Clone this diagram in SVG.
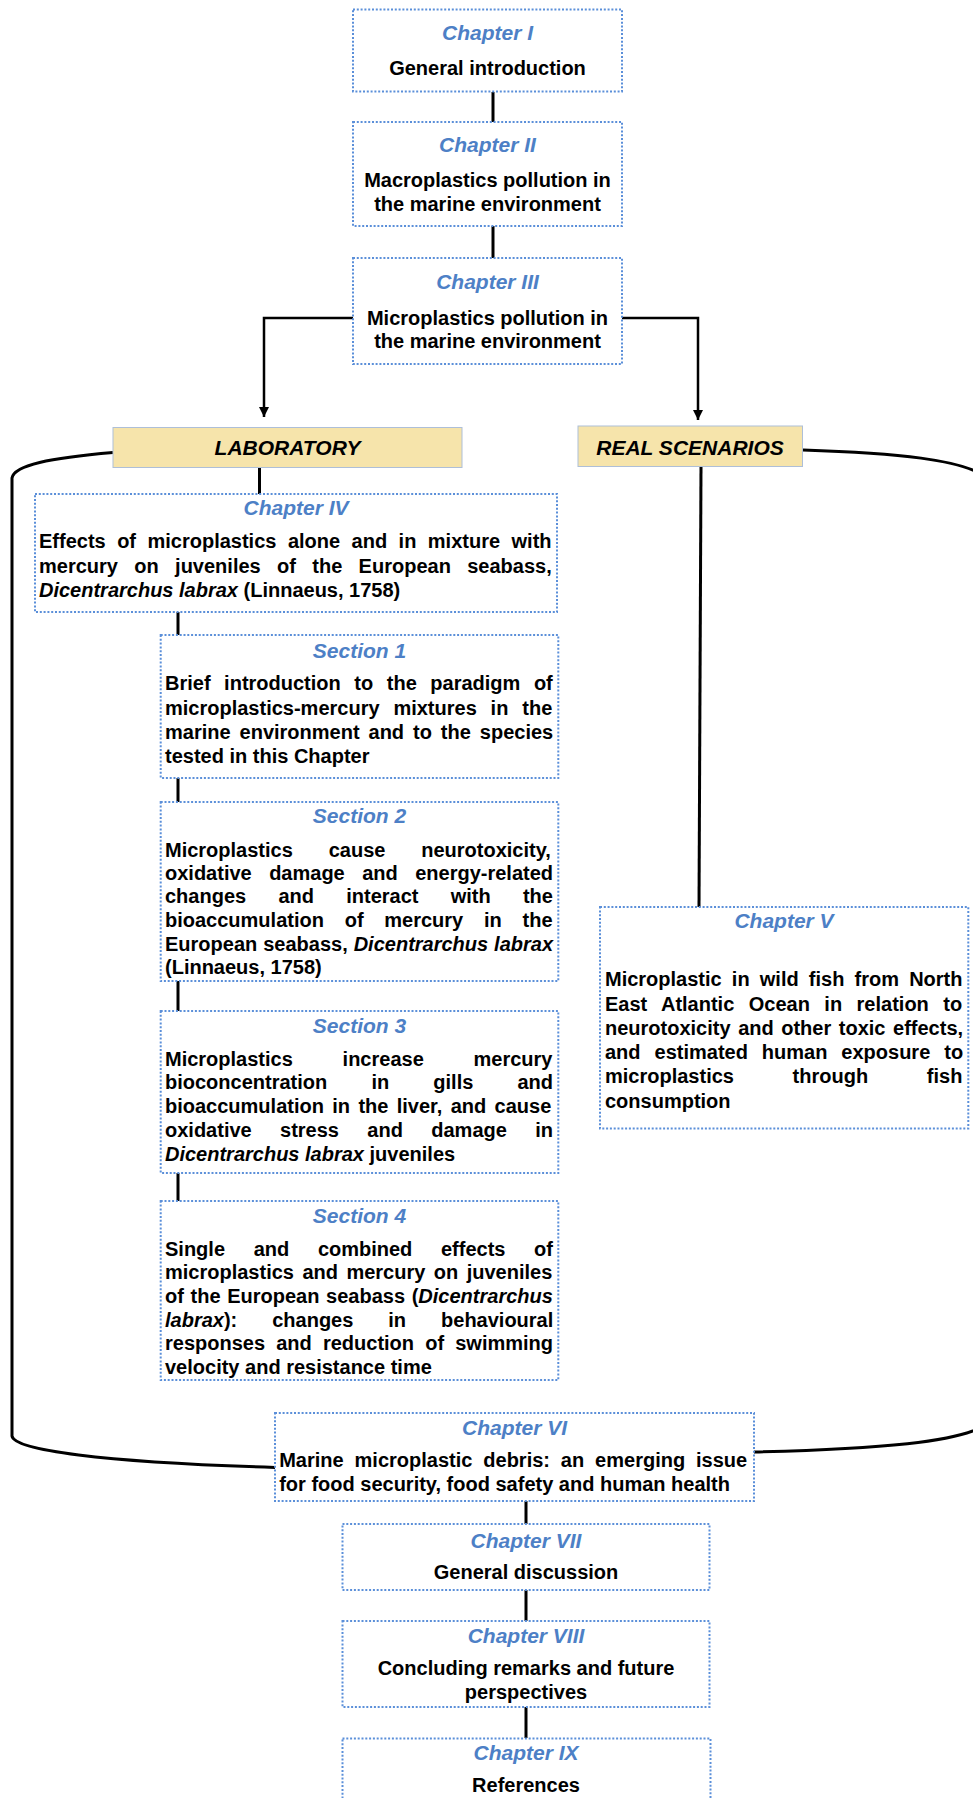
<svg xmlns="http://www.w3.org/2000/svg" width="973" height="1798" viewBox="0 0 973 1798">
<style>
.box{fill:#fff;stroke:#5b8fd9;stroke-width:2;stroke-dasharray:2 1.8}
.lab{fill:#f6e4ab;stroke:#aebfd8;stroke-width:1}
.t{font-family:"Liberation Sans",Arial,sans-serif;font-weight:bold;font-size:20px;fill:#000}
.h{font-family:"Liberation Sans",Arial,sans-serif;font-weight:bold;font-style:italic;font-size:21px;fill:#4d80c6;text-anchor:middle}
.k{font-family:"Liberation Sans",Arial,sans-serif;font-weight:bold;font-style:italic;font-size:21px;fill:#000;text-anchor:middle}
.c{text-anchor:middle}
.i{font-style:italic}
.ln{fill:none;stroke:#000;stroke-width:3}
.ar{fill:none;stroke:#000;stroke-width:2.5}
</style>
<defs>
<marker id="arr" viewBox="0 0 10 10" refX="10" refY="5" markerWidth="4" markerHeight="4" orient="auto" markerUnits="strokeWidth">
<path d="M0,0 L10,5 L0,10 z" fill="#000"/>
</marker>
</defs>

<g id="connectors">
<line class="ln" x1="493" y1="92" x2="493" y2="122"/>
<line class="ln" x1="493" y1="226" x2="493" y2="258"/>
<path class="ar" d="M353,318 H264 V417" marker-end="url(#arr)"/>
<path class="ar" d="M622,318 H698 V420" marker-end="url(#arr)"/>
<line class="ln" x1="259.5" y1="468" x2="259.5" y2="494"/>
<line class="ln" x1="178" y1="612" x2="178" y2="635"/>
<line class="ln" x1="178" y1="778" x2="178" y2="802"/>
<line class="ln" x1="178" y1="981" x2="178" y2="1011"/>
<line class="ln" x1="178" y1="1173" x2="178" y2="1201"/>
<line class="ln" x1="701" y1="467" x2="699" y2="907"/>
<path class="ln" d="M113,452.5 C50,458 14,465 12,478 V1436 C14,1450 100,1462 275,1467.5"/>
<path class="ln" d="M803,450 C900,453 960,460 985,476 V1425 C960,1442 880,1449 754,1452"/>
<line class="ln" x1="526" y1="1501" x2="526" y2="1524"/>
<line class="ln" x1="526" y1="1590" x2="526" y2="1621"/>
<line class="ln" x1="526" y1="1706" x2="526" y2="1738"/>
</g>

<g id="ch1">
<rect class="box" x="353" y="9.5" width="269" height="82"/>
<text class="h" x="487.5" y="40">Chapter I</text>
<text class="t c" x="487.5" y="75">General introduction</text>
</g>

<g id="ch2">
<rect class="box" x="353" y="122" width="269" height="104"/>
<text class="h" x="487.5" y="152">Chapter II</text>
<text class="t c" x="487.5" y="187">Macroplastics pollution in</text>
<text class="t c" x="487.5" y="211">the marine environment</text>
</g>

<g id="ch3">
<rect class="box" x="353" y="258" width="269" height="106"/>
<text class="h" x="487.5" y="289">Chapter III</text>
<text class="t c" x="487.5" y="325">Microplastics pollution in</text>
<text class="t c" x="487.5" y="348">the marine environment</text>
</g>

<g id="laboratory">
<rect class="lab" x="113" y="427.5" width="349" height="40"/>
<text class="k" x="287.5" y="455">LABORATORY</text>
</g>

<g id="real">
<rect class="lab" x="578" y="426" width="224.5" height="40.5"/>
<text class="k" x="690" y="455">REAL SCENARIOS</text>
</g>

<g id="ch4">
<rect class="box" x="35" y="494" width="522" height="118"/>
<text class="h" x="296" y="515">Chapter IV</text>
<text class="t" x="39" y="548" style="word-spacing:5.9px">Effects of microplastics alone and in mixture with</text>
<text class="t" x="39" y="572.7" style="word-spacing:10.8px">mercury on juveniles of the European seabass,</text>
<text class="t" x="39" y="597"><tspan class="i">Dicentrarchus labrax</tspan> (Linnaeus, 1758)</text>
</g>

<g id="sec1">
<rect class="box" x="160.7" y="635" width="397.6" height="143"/>
<text class="h" x="359.5" y="657.7">Section 1</text>
<text class="t" x="165" y="690" style="word-spacing:8px">Brief introduction to the paradigm of</text>
<text class="t" x="165" y="714.5" style="word-spacing:8.3px">microplastics-mercury mixtures in the</text>
<text class="t" x="165" y="739" style="word-spacing:3.4px">marine environment and to the species</text>
<text class="t" x="165" y="763.3">tested in this Chapter</text>
</g>

<g id="sec2">
<rect class="box" x="160.7" y="802" width="397.6" height="179"/>
<text class="h" x="359.5" y="823.3">Section 2</text>
<text class="t" x="165" y="856.7" style="word-spacing:30.3px">Microplastics cause neurotoxicity,</text>
<text class="t" x="165" y="880" style="word-spacing:11.9px">oxidative damage and energy-related</text>
<text class="t" x="165" y="903.3" style="word-spacing:26.7px">changes and interact with the</text>
<text class="t" x="165" y="927.3" style="word-spacing:15.2px">bioaccumulation of mercury in the</text>
<text class="t" x="165" y="950.7" style="word-spacing:0.4px">European seabass, <tspan class="i">Dicentrarchus labrax</tspan></text>
<text class="t" x="165" y="974">(Linnaeus, 1758)</text>
</g>

<g id="sec3">
<rect class="box" x="160.7" y="1011" width="397.6" height="162"/>
<text class="h" x="359.5" y="1033.3">Section 3</text>
<text class="t" x="165" y="1066" style="word-spacing:44.2px">Microplastics increase mercury</text>
<text class="t" x="165" y="1089.3" style="word-spacing:38.6px">bioconcentration in gills and</text>
<text class="t" x="165" y="1113.3" style="word-spacing:2.8px">bioaccumulation in the liver, and cause</text>
<text class="t" x="165" y="1136.7" style="word-spacing:22.8px">oxidative stress and damage in</text>
<text class="t" x="165" y="1160.7"><tspan class="i">Dicentrarchus labrax</tspan> juveniles</text>
</g>

<g id="sec4">
<rect class="box" x="160.7" y="1201" width="397.6" height="179"/>
<text class="h" x="359.5" y="1223.3">Section 4</text>
<text class="t" x="165" y="1256" style="word-spacing:23.1px">Single and combined effects of</text>
<text class="t" x="165" y="1279.3" style="word-spacing:2.9px">microplastics and mercury on juveniles</text>
<text class="t" x="165" y="1303.3" style="word-spacing:1.1px">of the European seabass (<tspan class="i">Dicentrarchus</tspan></text>
<text class="t" x="165" y="1326.7" style="word-spacing:29.4px"><tspan class="i">labrax</tspan>): changes in behavioural</text>
<text class="t" x="165" y="1350" style="word-spacing:5.6px">responses and reduction of swimming</text>
<text class="t" x="165" y="1374">velocity and resistance time</text>
</g>

<g id="ch5">
<rect class="box" x="600" y="907" width="368.3" height="221.5"/>
<text class="h" x="784" y="928.3">Chapter V</text>
<text class="t" x="605" y="986" style="word-spacing:4.6px">Microplastic in wild fish from North</text>
<text class="t" x="605" y="1010.7" style="word-spacing:8.9px">East Atlantic Ocean in relation to</text>
<text class="t" x="605" y="1035" style="word-spacing:2px">neurotoxicity and other toxic effects,</text>
<text class="t" x="605" y="1059.3" style="word-spacing:8.4px">and estimated human exposure to</text>
<text class="t" x="605" y="1083.3" style="word-spacing:53.1px">microplastics through fish</text>
<text class="t" x="605" y="1107.7">consumption</text>
</g>

<g id="ch6">
<rect class="box" x="275" y="1413" width="479" height="88"/>
<text class="h" x="514.5" y="1435">Chapter VI</text>
<text class="t" x="279.2" y="1467.3" style="word-spacing:5.35px">Marine microplastic debris: an emerging issue</text>
<text class="t" x="279.2" y="1490.7">for food security, food safety and human health</text>
</g>

<g id="ch7">
<rect class="box" x="342.5" y="1524" width="367" height="66"/>
<text class="h" x="526" y="1548.3">Chapter VII</text>
<text class="t c" x="526" y="1579">General discussion</text>
</g>

<g id="ch8">
<rect class="box" x="342.5" y="1621" width="367" height="86"/>
<text class="h" x="526" y="1643.3">Chapter VIII</text>
<text class="t c" x="526" y="1675">Concluding remarks and future</text>
<text class="t c" x="526" y="1699.3">perspectives</text>
</g>

<g id="ch9">
<rect class="box" x="342.5" y="1738.5" width="368" height="80"/>
<text class="h" x="526" y="1760">Chapter IX</text>
<text class="t c" x="526" y="1791.7">References</text>
</g>
</svg>
